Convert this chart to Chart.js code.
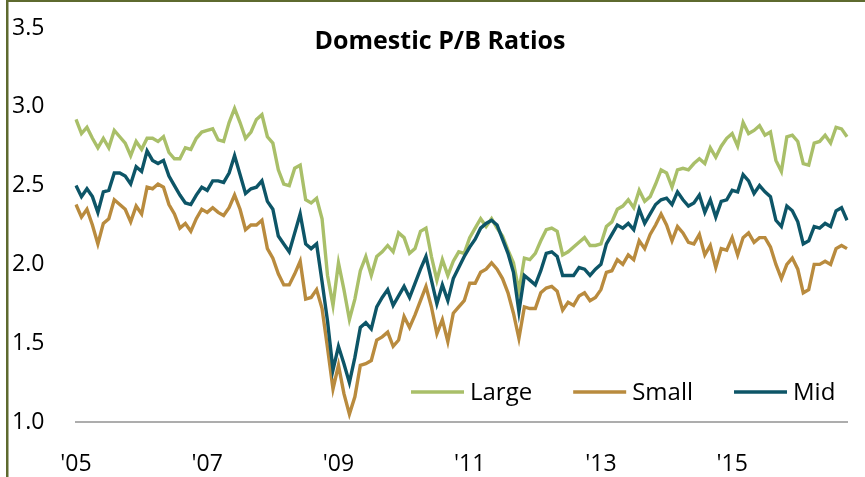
<!DOCTYPE html>
<html>
<head>
<meta charset="utf-8">
<script src="https://cdn.jsdelivr.net/npm/chart.js@4.4.0/dist/chart.umd.min.js"></script>
<style>
  html, body { margin: 0; padding: 0; background: #fff; }
</style>
</head>
<body>
<canvas id="pbChart" width="865" height="477"></canvas>
<script>
// Domestic P/B ratios, monthly Jan 2005 - Oct 2016
const startYear = 2005;
const yearTicks = ["'05", "'07", "'09", "'11", "'13", "'15"];
const seriesNames = ['Large', 'Small', 'Mid'];
const seriesColors = ['#a9bf69', '#b98b3e', '#0d5567'];

const largeCap = [
  2.92, 2.83, 2.87, 2.80, 2.74, 2.80, 2.74, 2.85, 2.81, 2.77, 2.69, 2.78,
  2.73, 2.80, 2.80, 2.78, 2.81, 2.71, 2.67, 2.67, 2.74, 2.73, 2.80, 2.84,
  2.85, 2.86, 2.79, 2.78, 2.90, 2.99, 2.90, 2.80, 2.84, 2.92, 2.95, 2.81,
  2.77, 2.60, 2.51, 2.50, 2.61, 2.63, 2.41, 2.39, 2.42, 2.29, 1.93, 1.74,
  2.01, 1.84, 1.65, 1.78, 1.96, 2.05, 1.93, 2.05, 2.08, 2.12, 2.08, 2.20,
  2.17, 2.07, 2.10, 2.21, 2.23, 2.05, 1.90, 2.03, 1.93, 2.02, 2.08, 2.07,
  2.17, 2.23, 2.29, 2.24, 2.29, 2.23, 2.18, 2.09, 2.01, 1.83, 2.04, 2.03,
  2.07, 2.15, 2.22, 2.23, 2.21, 2.06, 2.08, 2.11, 2.14, 2.17, 2.12, 2.12,
  2.13, 2.24, 2.27, 2.35, 2.37, 2.41, 2.36, 2.47, 2.40, 2.43, 2.51, 2.60,
  2.58, 2.49, 2.60, 2.61, 2.60, 2.64, 2.67, 2.64, 2.74, 2.68, 2.75, 2.80,
  2.83, 2.75, 2.90, 2.83, 2.85, 2.88, 2.82, 2.84, 2.66, 2.59, 2.81, 2.82,
  2.78, 2.64, 2.63, 2.77, 2.78, 2.82, 2.77, 2.87, 2.86, 2.81
];

const smallCap = [
  2.38, 2.30, 2.35, 2.25, 2.13, 2.26, 2.29, 2.41, 2.38, 2.35, 2.27, 2.37,
  2.32, 2.49, 2.48, 2.51, 2.49, 2.38, 2.32, 2.23, 2.26, 2.21, 2.29, 2.35,
  2.33, 2.36, 2.33, 2.31, 2.36, 2.44, 2.35, 2.22, 2.25, 2.25, 2.28, 2.10,
  2.04, 1.94, 1.87, 1.87, 1.94, 2.02, 1.78, 1.79, 1.84, 1.72, 1.47, 1.21,
  1.36, 1.18, 1.05, 1.16, 1.36, 1.37, 1.39, 1.52, 1.54, 1.57, 1.48, 1.52,
  1.67, 1.60, 1.68, 1.77, 1.86, 1.73, 1.56, 1.65, 1.51, 1.69, 1.73, 1.77,
  1.88, 1.88, 1.95, 1.97, 2.01, 1.97, 1.91, 1.82, 1.69, 1.53, 1.73, 1.72,
  1.72, 1.82, 1.85, 1.86, 1.83, 1.71, 1.76, 1.74, 1.80, 1.82, 1.77, 1.79,
  1.84, 1.95, 1.96, 2.03, 2.00, 2.06, 2.03, 2.15, 2.10, 2.19, 2.25, 2.32,
  2.25, 2.15, 2.24, 2.20, 2.14, 2.13, 2.19, 2.06, 2.12, 1.98, 2.10, 2.09,
  2.17, 2.06, 2.17, 2.20, 2.14, 2.17, 2.17, 2.11, 2.00, 1.91, 2.00, 2.04,
  1.97, 1.82, 1.84, 2.00, 2.00, 2.02, 2.00, 2.10, 2.12, 2.10
];

const midCap = [
  2.50, 2.43, 2.48, 2.43, 2.33, 2.46, 2.47, 2.58, 2.58, 2.56, 2.51, 2.62,
  2.59, 2.72, 2.66, 2.64, 2.66, 2.56, 2.50, 2.44, 2.39, 2.38, 2.44, 2.49,
  2.47, 2.53, 2.53, 2.52, 2.58, 2.69, 2.57, 2.45, 2.48, 2.49, 2.53, 2.40,
  2.35, 2.18, 2.13, 2.08, 2.20, 2.32, 2.13, 2.10, 2.13, 1.89, 1.64, 1.33,
  1.48, 1.37, 1.25, 1.41, 1.60, 1.63, 1.59, 1.73, 1.79, 1.84, 1.74, 1.80,
  1.86, 1.79, 1.88, 1.97, 2.05, 1.90, 1.75, 1.87, 1.77, 1.91, 1.98, 2.05,
  2.11, 2.16, 2.23, 2.26, 2.28, 2.25, 2.16, 2.07, 1.95, 1.70, 1.93, 1.90,
  1.87, 1.96, 2.07, 2.08, 2.05, 1.93, 1.93, 1.93, 1.98, 1.97, 1.93, 1.97,
  2.00, 2.13, 2.19, 2.25, 2.23, 2.26, 2.22, 2.35, 2.26, 2.32, 2.38, 2.41,
  2.42, 2.38, 2.46, 2.41, 2.37, 2.39, 2.44, 2.33, 2.41, 2.30, 2.40, 2.41,
  2.47, 2.46, 2.57, 2.53, 2.45, 2.50, 2.46, 2.43, 2.28, 2.24, 2.37, 2.34,
  2.27, 2.13, 2.15, 2.24, 2.23, 2.26, 2.24, 2.34, 2.36, 2.28
];

const monthLabels = largeCap.map((_, i) =>
  `${startYear + Math.floor(i / 12)}-${String(i % 12 + 1).padStart(2, '0')}`);

const fontFamily = '"Open Sans", "Noto Sans", sans-serif';

// white background + olive frame on the left and top edge
const framePlugin = {
  id: 'frame',
  beforeDraw(chart) {
    const { ctx, width, height } = chart;
    ctx.save();
    ctx.fillStyle = '#ffffff';
    ctx.fillRect(0, 0, width, height);
    ctx.fillStyle = '#5e6a2f';
    ctx.fillRect(6, 0, 2.5, height);
    ctx.fillRect(6, 0, width - 6, 2);
    ctx.restore();
  }
};

// title and legend sit inside the plot area
const overlayPlugin = {
  id: 'overlay',
  afterDraw(chart) {
    const { ctx } = chart;
    ctx.save();
    ctx.fillStyle = '#000000';
    ctx.font = `bold 25px ${fontFamily}`;
    ctx.textAlign = 'center';
    ctx.textBaseline = 'alphabetic';
    ctx.fillText('Domestic P/B Ratios', 440, 49);

    ctx.font = `24px ${fontFamily}`;
    ctx.textAlign = 'left';
    ctx.textBaseline = 'middle';
    let x = 411;
    const y = 392;
    chart.data.datasets.forEach((ds) => {
      ctx.strokeStyle = ds.borderColor;
      ctx.lineWidth = 3.5;
      ctx.beginPath();
      ctx.moveTo(x, y);
      ctx.lineTo(x + 53, y);
      ctx.stroke();
      ctx.fillStyle = '#000000';
      ctx.fillText(ds.label, x + 59, y + 1);
      x += 59 + ctx.measureText(ds.label).width + 41;
    });
    ctx.restore();
  }
};

const seriesData = [largeCap, smallCap, midCap];

new Chart(document.getElementById('pbChart'), {
  type: 'line',
  data: {
    labels: monthLabels,
    datasets: seriesData.map((values, i) => ({
      label: seriesNames[i],
      data: values,
      borderColor: seriesColors[i],
      borderWidth: 3.4,
      pointRadius: 0,
      tension: 0,
      fill: false,
      order: 3 - i
    }))
  },
  options: {
    responsive: false,
    animation: false,
    layout: { padding: { left: 12, top: 28, right: 18, bottom: 0 } },
    plugins: {
      legend: { display: false },
      title: { display: false },
      tooltip: { enabled: false }
    },
    scales: {
      x: {
        type: 'category',
        offset: false,
        grid: { display: false },
        border: { display: true, color: '#adadad', width: 2 },
        ticks: {
          autoSkip: false,
          maxRotation: 0,
          minRotation: 0,
          padding: 21,
          color: '#000000',
          font: { family: fontFamily, size: 23 },
          callback: (value, index) => (index % 24 === 0 ? yearTicks[index / 24] : null)
        },
        afterFit: (scale) => { scale.height = 55; }
      },
      y: {
        min: 1.0,
        max: 3.5,
        grid: { display: false },
        border: { display: false },
        ticks: {
          stepSize: 0.5,
          crossAlign: 'far',
          color: '#000000',
          font: { family: fontFamily, size: 23 },
          callback: (v) => v.toFixed(1)
        },
        afterFit: (scale) => { scale.width = 64; }
      }
    }
  },
  plugins: [framePlugin, overlayPlugin]
});
</script>
</body>
</html>
